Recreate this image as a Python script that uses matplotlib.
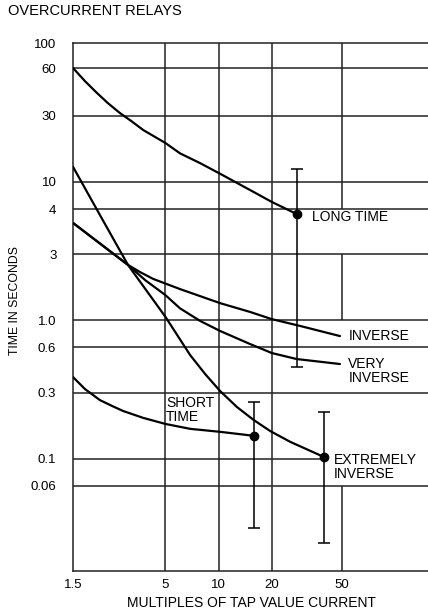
import numpy as np
import matplotlib.pyplot as plt

plt.rcParams['font.family'] = ['Liberation Sans', 'DejaVu Sans']

# -------------------------------------------------------------------
# Datos
# -------------------------------------------------------------------

x_ticks = [1.5, 5, 10, 20, 50]
x_tick_labels = ['1.5', '5', '10', '20', '50']
y_ticks = [100, 66, 30, 10, 6.3, 3, 1.0, 0.64, 0.3, 0.1, 0.064]
y_tick_labels = ['100', '60', '30', '10', '4', '3', '1.0', '0.6', '0.3', '0.1', '0.06']

long_x = [1.5, 1.75, 2.05, 2.36, 2.76, 3.20, 3.74, 5.0, 6.05, 7.86, 10.2, 15.05, 20.0, 27.6]
long_y = [66.1, 53.2, 43.6, 36.9, 31.3, 27.4, 23.6, 19.0, 16.0, 13.6, 11.4, 8.71, 7.14, 5.85]

inv_x = [1.5, 3.07, 3.59, 4.26, 6.05, 10.2, 15.05, 20.0, 29.0, 48.6]
inv_y = [5.04, 2.51, 2.23, 1.99, 1.68, 1.33, 1.15, 1.02, 0.91, 0.77]

vinv_x = [1.5, 3.07, 3.84, 5.0, 6.05, 7.86, 10.2, 15.05, 20.0, 27.6, 48.6]
vinv_y = [5.04, 2.51, 1.95, 1.52, 1.22, 0.99, 0.838, 0.675, 0.581, 0.526, 0.484]

ext_x = [1.5, 2.13, 3.07, 5.0, 6.9, 8.39, 10.2, 12.7, 15.8, 19.6, 25.4, 39.7]
ext_y = [12.8, 5.75, 2.51, 1.06, 0.562, 0.41, 0.309, 0.237, 0.191, 0.159, 0.133, 0.103]

short_x = [1.5, 1.75, 2.13, 2.50, 2.88, 3.74, 5.0, 6.9, 10.2, 15.8]
short_y = [0.39, 0.32, 0.266, 0.241, 0.222, 0.198, 0.179, 0.165, 0.157, 0.147]

# puntos de ajuste con su rango (min, max)
bar_x = [27.6, 15.8, 39.7]
bar_y = [5.85, 0.147, 0.103]
bar_lo = [0.46, 0.0318, 0.0248]
bar_hi = [12.3, 0.258, 0.218]

# -------------------------------------------------------------------
# Grafica
# -------------------------------------------------------------------

W, H = 428, 613
fig = plt.figure(figsize=(W / 100, H / 100), dpi=100)
ax = fig.add_axes([73 / W, 1 - 571 / H, 1 - 73 / W, (571 - 43) / H])

ax.set_xscale('log')
ax.set_yscale('log')
ax.set_xlim(1.5, 153)
ax.set_ylim(0.01557, 100)

lw_grid = 1.1
# lineas horizontales
for yv in y_ticks[1:]:
    if yv == 0.1:
        ax.hlines(yv, 1.5, bar_x[2], color='#222222', lw=lw_grid, zorder=1)
    else:
        ax.axhline(yv, color='#222222', lw=lw_grid, zorder=1)
# lineas verticales (la de 50 queda cortada por las etiquetas)
for xv in x_ticks[1:4]:
    ax.axvline(xv, color='#222222', lw=lw_grid, zorder=1)
ax.vlines([50, 50, 50], [y_ticks[4], y_ticks[6], 0.01557], [100, y_ticks[5], y_ticks[10]],
          color='#222222', lw=lw_grid, zorder=1)

lw = 1.6
for xs, ys in [(long_x, long_y), (inv_x, inv_y), (vinv_x, vinv_y),
               (ext_x, ext_y), (short_x, short_y)]:
    ax.plot(xs, ys, color='black', lw=lw, solid_capstyle='round',
            solid_joinstyle='round', zorder=3)

bar_y = np.array(bar_y)
yerr = [bar_y - np.array(bar_lo), np.array(bar_hi) - bar_y]
ax.errorbar(bar_x, bar_y, yerr=yerr, fmt='o', color='black', ms=6,
            elinewidth=1.1, capsize=4.5, capthick=1.1, zorder=4)

fs = 10
ax.text(33.8, 5.56, 'LONG TIME', fontsize=fs, va='center', ha='left')
ax.text(54.2, 0.77, 'INVERSE', fontsize=fs, va='center', ha='left')
ax.text(54.2, 0.431, 'VERY\nINVERSE', fontsize=fs, va='center', ha='left', linespacing=1.0)
ax.text(45.0, 0.087, 'EXTREMELY\nINVERSE', fontsize=fs, va='center', ha='left', linespacing=1.0)
ax.text(5.05, 0.226, 'SHORT\nTIME', fontsize=fs, va='center', ha='left', linespacing=1.0)

ax.set_xticks(x_ticks)
ax.set_xticklabels(x_tick_labels)
ax.set_yticks(y_ticks)
ax.set_yticklabels(y_tick_labels)
ax.minorticks_off()
ax.tick_params(axis='both', length=0, labelsize=9.5)
ax.tick_params(axis='y', pad=12)
ax.tick_params(axis='x', pad=6)

for side in ['left', 'top', 'bottom']:
    ax.spines[side].set_linewidth(lw_grid)
    ax.spines[side].set_color('#222222')
ax.spines['right'].set_visible(False)

fig.text(8 / W, 1 - 11 / H, 'OVERCURRENT RELAYS', fontsize=10.5, va='center', ha='left')
fig.text(252 / W, 1 - 603 / H, 'MULTIPLES OF TAP VALUE CURRENT', fontsize=10,
         va='center', ha='center')
fig.text(15 / W, 1 - 300 / H, 'TIME IN SECONDS', fontsize=8.8, rotation=90,
         va='center', ha='center')

plt.savefig('out.png', dpi=100)
